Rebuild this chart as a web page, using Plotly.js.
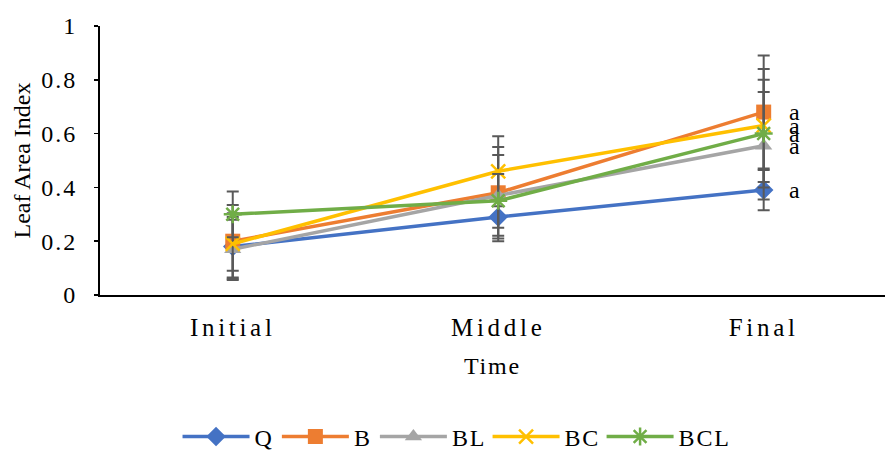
<!DOCTYPE html>
<html>
<head>
<meta charset="utf-8">
<script src="https://cdn.plot.ly/plotly-3.0.1.min.js"></script>
<style>
html,body{margin:0;padding:0;background:#fff;}
#chart .xtick text{letter-spacing:3.7px;}
#chart .ytick text{letter-spacing:2px;}
#chart .xtitle{letter-spacing:1.8px;}
#chart .legendtext{letter-spacing:1.8px;}
</style>
</head>
<body>
<div id="chart" style="width:885px;height:450px;"></div>
<script>
var categories = ["Initial", "Middle", "Final"];
var seriesNames = ["Q", "B", "BL", "BC", "BCL"];
var Q   = [0.18, 0.29, 0.39];
var B   = [0.20, 0.38, 0.68];
var BL  = [0.17, 0.37, 0.555];
var BC  = [0.19, 0.46, 0.63];
var BCL = [0.30, 0.35, 0.60];
var errQ   = [0.124, 0.09, 0.075];
var errB   = [0.135, 0.17, 0.21];
var errBL  = [0.11, 0.15, 0.20];
var errBC  = [0.10, 0.13, 0.21];
var errBCL = [0.085, 0.10, 0.20];
var letters = ["a", "a", "a", "a", "a"];

var values = [Q, B, BL, BC, BCL];
var errs = [errQ, errB, errBL, errBC, errBCL];
var colors = ["#4472C4", "#ED7D31", "#A5A5A5", "#FFC000", "#70AD47"];
var symbols = ["diamond", "square", "triangle-up", "x-thin-open", "asterisk-open"];
var sizes = [15, 15, 15, 14, 15];

var traces = seriesNames.map(function(name, i){
  return {
    type: "scatter", mode: "lines+markers", name: name,
    x: categories, y: values[i],
    line: {color: colors[i], width: 3.5},
    marker: {symbol: symbols[i], size: sizes[i], color: colors[i],
             line: {color: colors[i], width: (i >= 3 ? 2.5 : 0)}},
    error_y: {type: "data", array: errs[i], visible: true, color: "#595959", thickness: 2, width: 6}
  };
});

var annotations = seriesNames.map(function(name, i){
  return {
    x: categories[2], y: values[i][2], xref: "x", yref: "y",
    text: letters[i], showarrow: false, xshift: 31, yshift: 0,
    font: {family: "Liberation Serif", size: 24, color: "#000"}
  };
});

var layout = {
  width: 885, height: 450,
  margin: {l: 100, r: 0, t: 26, b: 155},
  paper_bgcolor: "#fff", plot_bgcolor: "#fff",
  font: {family: "Liberation Serif", size: 24, color: "#000"},
  showlegend: true,
  legend: {orientation: "h", x: 0.451, xanchor: "center", yref: "container", y: 0.029, yanchor: "middle",
           font: {family: "Liberation Serif", size: 24, color: "#000"}, itemwidth: 67},
  xaxis: {type: "category", range: [-0.5, 2.457], showline: true, linecolor: "#000", linewidth: 2,
          ticks: "", showgrid: false, zeroline: false, ticklabelstandoff: 9, automargin: false,
          tickfont: {family: "Liberation Serif", size: 25},
          title: {text: "Time", font: {family: "Liberation Serif", size: 24}, standoff: 17}},
  yaxis: {range: [0, 1], dtick: 0.2, showline: true, linecolor: "#000", linewidth: 2,
          ticks: "outside", ticklen: 4, tickcolor: "#000", tickwidth: 1.5, showgrid: false, zeroline: false,
          ticklabelstandoff: 12, automargin: false,
          tickfont: {family: "Liberation Serif", size: 24},
          title: {text: "Leaf Area Index", font: {family: "Liberation Serif", size: 24}, standoff: 10}},
  annotations: annotations
};

Plotly.newPlot("chart", traces, layout, {displayModeBar: false, staticPlot: true});
</script>
</body>
</html>
